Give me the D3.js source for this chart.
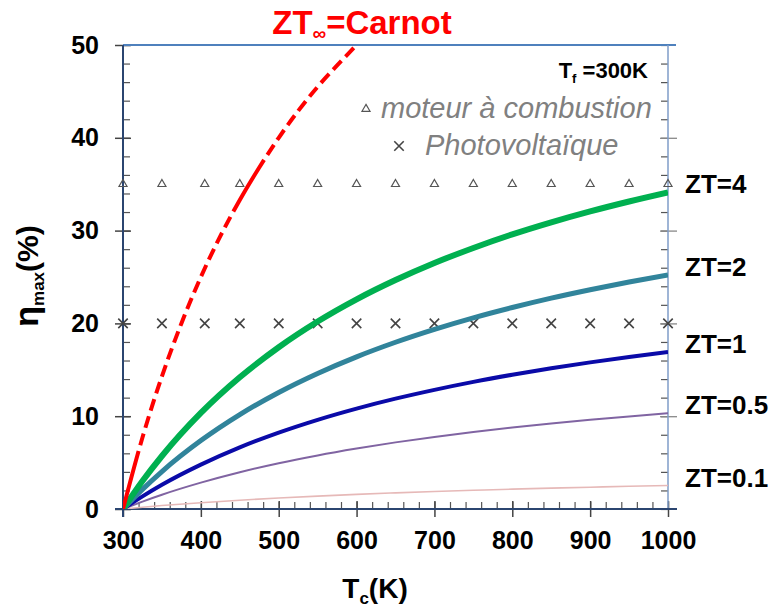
<!DOCTYPE html>
<html><head><meta charset="utf-8">
<script src="https://cdn.jsdelivr.net/npm/d3@7"></script>
<style>body{margin:0;background:#fff}</style>
</head><body><svg id="c" width="770" height="612"></svg>
<script>
// ---- data ----
const xTicks = [300,400,500,600,700,800,900,1000];
const yTicks = [0,10,20,30,40,50];
const tempsCarnot = [300,325,350,375,400,425,450,475,500,525,550,575,600];
const carnot      = [0,7.7,14.3,20,25,29.4,33.3,36.8,40,42.9,45.5,47.8,50];
const temps = [300,325,350,400,450,500,550,600,650,700,750,800,850,900,950,1000];
const zt4  = [0,3.01,5.71,10.35,14.19,17.43,20.20,22.59,24.67,26.51,28.13,29.59,30.89,32.07,33.14,34.12];
const zt2  = [0,2.12,4.04,7.37,10.17,12.56,14.61,16.40,17.97,19.36,20.60,21.71,22.72,23.63,24.46,25.22];
const zt1  = [0,1.36,2.61,4.78,6.64,8.23,9.61,10.82,11.89,12.84,13.70,14.47,15.17,15.80,16.38,16.91];
const zt05 = [0,0.80,1.54,2.84,3.96,4.93,5.77,6.51,7.18,7.77,8.30,8.78,9.22,9.62,9.98,10.32];
const zt01 = [0,0.19,0.37,0.68,0.95,1.18,1.39,1.58,1.74,1.89,2.02,2.14,2.25,2.35,2.45,2.53];
const seriesNames = ["ZT=4","ZT=2","ZT=1","ZT=0.5","ZT=0.1"];
const markerT = [300,350,405,450,500,550,600,650,700,750,800,850,900,950,1000];
const combustionValue = 35;
const pvValue = 20;

// ---- layout ----
const svg = d3.select("#c");
const L=123, R=668, T=45, B=509;
const x = d3.scaleLinear().domain([300,1000]).range([L,R]);
const y = d3.scaleLinear().domain([0,50]).range([B,T]);
const FONT = "'Liberation Sans', Arial, sans-serif";

svg.append("rect").attr("width",770).attr("height",612).attr("fill","#fff");
svg.append("clipPath").attr("id","clip").append("rect")
  .attr("x",L).attr("y",T).attr("width",R-L).attr("height",B-T);

// minor ticks
const minorX = d3.range(300,1001,20);
const minorY = d3.range(0,51,2);
const gMinX = svg.append("g").attr("transform",`translate(0,${B})`)
  .call(d3.axisBottom(x).tickValues(minorX).tickSize(-7).tickFormat(""));
const gMinY = svg.append("g").attr("transform",`translate(${L},0)`)
  .call(d3.axisLeft(y).tickValues(minorY).tickSize(-7).tickFormat(""));
const gMinYR = svg.append("g").attr("transform",`translate(${R},0)`)
  .call(d3.axisRight(y).tickValues(minorY).tickSize(-7).tickFormat(""));
[gMinX,gMinY,gMinYR].forEach(g=>{g.select(".domain").remove();g.selectAll("line").attr("stroke","#555").attr("stroke-width",1.2);});

// major axes
const gx = svg.append("g").attr("transform",`translate(0,${B})`)
  .call(d3.axisBottom(x).tickValues(xTicks).tickSize(8).tickPadding(14).tickFormat(d3.format("d")));
gx.select(".domain").remove();
gx.selectAll(".tick line").attr("y1",-8).attr("y2",8).attr("stroke","#444").attr("stroke-width",1.5);
gx.selectAll("text").attr("font-family",FONT).attr("font-weight","bold").attr("font-size",25).attr("fill","#000");

const gy = svg.append("g").attr("transform",`translate(${L},0)`)
  .call(d3.axisLeft(y).tickValues(yTicks).tickSize(8).tickPadding(16));
gy.select(".domain").remove();
gy.selectAll(".tick line").attr("x1",-8).attr("x2",8).attr("stroke","#444").attr("stroke-width",1.5);
gy.selectAll("text").attr("font-family",FONT).attr("font-weight","bold").attr("font-size",25).attr("fill","#000");

const gyR = svg.append("g").attr("transform",`translate(${R},0)`)
  .call(d3.axisRight(y).tickValues(yTicks.filter(d=>d>0&&d<50)).tickSize(8).tickFormat(""));
gyR.select(".domain").remove();
gyR.selectAll(".tick line").attr("x1",-8).attr("x2",9).attr("stroke","#888").attr("stroke-width",1.3);

// frame
svg.append("line").attr("x1",L).attr("x2",R+8).attr("y1",T).attr("y2",T).attr("stroke","#4f81bd").attr("stroke-width",2);
svg.append("line").attr("x1",R).attr("x2",R).attr("y1",T).attr("y2",B).attr("stroke","#7f9cc8").attr("stroke-width",1.5);
svg.append("line").attr("x1",L).attr("x2",L).attr("y1",T).attr("y2",B+8).attr("stroke","#2b4570").attr("stroke-width",2);
svg.append("line").attr("x1",L-8).attr("x2",R+9).attr("y1",B).attr("y2",B).attr("stroke","#2b4570").attr("stroke-width",2.2);

// markers
const tri = d3.symbol().type(d3.symbolTriangle).size(28);
svg.append("g").selectAll("path").data(markerT).join("path")
  .attr("d",tri).attr("transform",d=>`translate(${x(d)},${y(combustionValue)})`)
  .attr("fill","none").attr("stroke","#555").attr("stroke-width",1.2);
const cross = d3.symbol().type(d3.symbolX).size(60);
svg.append("g").selectAll("path").data(markerT).join("path")
  .attr("d",cross).attr("transform",d=>`translate(${x(d)},${y(pvValue)})`)
  .attr("fill","none").attr("stroke","#444").attr("stroke-width",1.6);

// curves
const line = d3.line().x(d=>x(d[0])).y(d=>y(d[1])).curve(d3.curveMonotoneX);
const plot = svg.append("g").attr("clip-path","url(#clip)");
const series = [
  {v:zt01, color:"#e6b9b8", w:1.6},
  {v:zt05, color:"#8064a2", w:2},
  {v:zt1,  color:"#0a0aa8", w:4},
  {v:zt2,  color:"#31849b", w:5},
  {v:zt4,  color:"#00b050", w:6},
];
series.forEach(s=>{
  plot.append("path").datum(temps.map((t,i)=>[t,s.v[i]]))
    .attr("d",line).attr("fill","none").attr("stroke",s.color).attr("stroke-width",s.w);
});
plot.append("path").datum(tempsCarnot.map((t,i)=>[t,carnot[i]]))
  .attr("d",line).attr("fill","none").attr("stroke","#ff0000").attr("stroke-width",4)
  .attr("stroke-dasharray","60,6,12,6,12,6,12,6,12,6,12,6,12,6,12,6,12,6,12,6,12,6,12,6,12,6,12,6,12,6");

// series labels at right
const ends = [zt4,zt2,zt1,zt05,zt01].map(a=>a[a.length-1]);
svg.append("g").selectAll("text").data(seriesNames).join("text")
  .attr("x",685).attr("y",(d,i)=>y(ends[i])+1)
  .attr("font-family",FONT).attr("font-weight","bold").attr("font-size",26).attr("fill","#000")
  .text(d=>d);

// title
const title = svg.append("text").attr("x",362).attr("y",34).attr("text-anchor","middle")
  .attr("font-family",FONT).attr("font-weight","bold").attr("font-size",33).attr("fill","#ff0000");
title.append("tspan").text("ZT");
title.append("tspan").attr("font-size",19).attr("dy",6).text("∞");
title.append("tspan").attr("dy",-6).text("=Carnot");

// Tf annotation
const tf = svg.append("text").attr("x",648).attr("y",78).attr("text-anchor","end")
  .attr("font-family",FONT).attr("font-weight","bold").attr("font-size",22).attr("fill","#000");
tf.append("tspan").text("T");
tf.append("tspan").attr("font-size",13).attr("dy",5).text("f");
tf.append("tspan").attr("dy",-5).text(" =300K");

// legend
svg.append("path").attr("d",tri).attr("transform",`translate(366,109)`)
  .attr("fill","none").attr("stroke","#555").attr("stroke-width",1.2);
svg.append("text").attr("x",381).attr("y",118).attr("font-family",FONT).attr("font-style","italic")
  .attr("font-size",29).attr("fill","#808080").text("moteur à combustion");
svg.append("path").attr("d",cross).attr("transform",`translate(399,146)`)
  .attr("fill","none").attr("stroke","#444").attr("stroke-width",1.6);
svg.append("text").attr("x",425).attr("y",155).attr("font-family",FONT).attr("font-style","italic")
  .attr("font-size",29).attr("fill","#808080").text("Photovoltaïque");

// axis titles
const xt = svg.append("text").attr("x",375).attr("y",598).attr("text-anchor","middle")
  .attr("font-family",FONT).attr("font-weight","bold").attr("font-size",28).attr("fill","#000");
xt.append("tspan").text("T");
xt.append("tspan").attr("font-size",17).attr("dy",6).text("c");
xt.append("tspan").attr("dy",-6).text("(K)");

const yt = svg.append("text").attr("transform","translate(38,276) rotate(-90)").attr("text-anchor","middle")
  .attr("font-family",FONT).attr("font-weight","bold").attr("font-size",30).attr("fill","#000");
yt.append("tspan").attr("font-size",34).text("η");
yt.append("tspan").attr("font-size",17).attr("dy",6).text("max");
yt.append("tspan").attr("dy",-6).text("(%)");
</script></body></html>
